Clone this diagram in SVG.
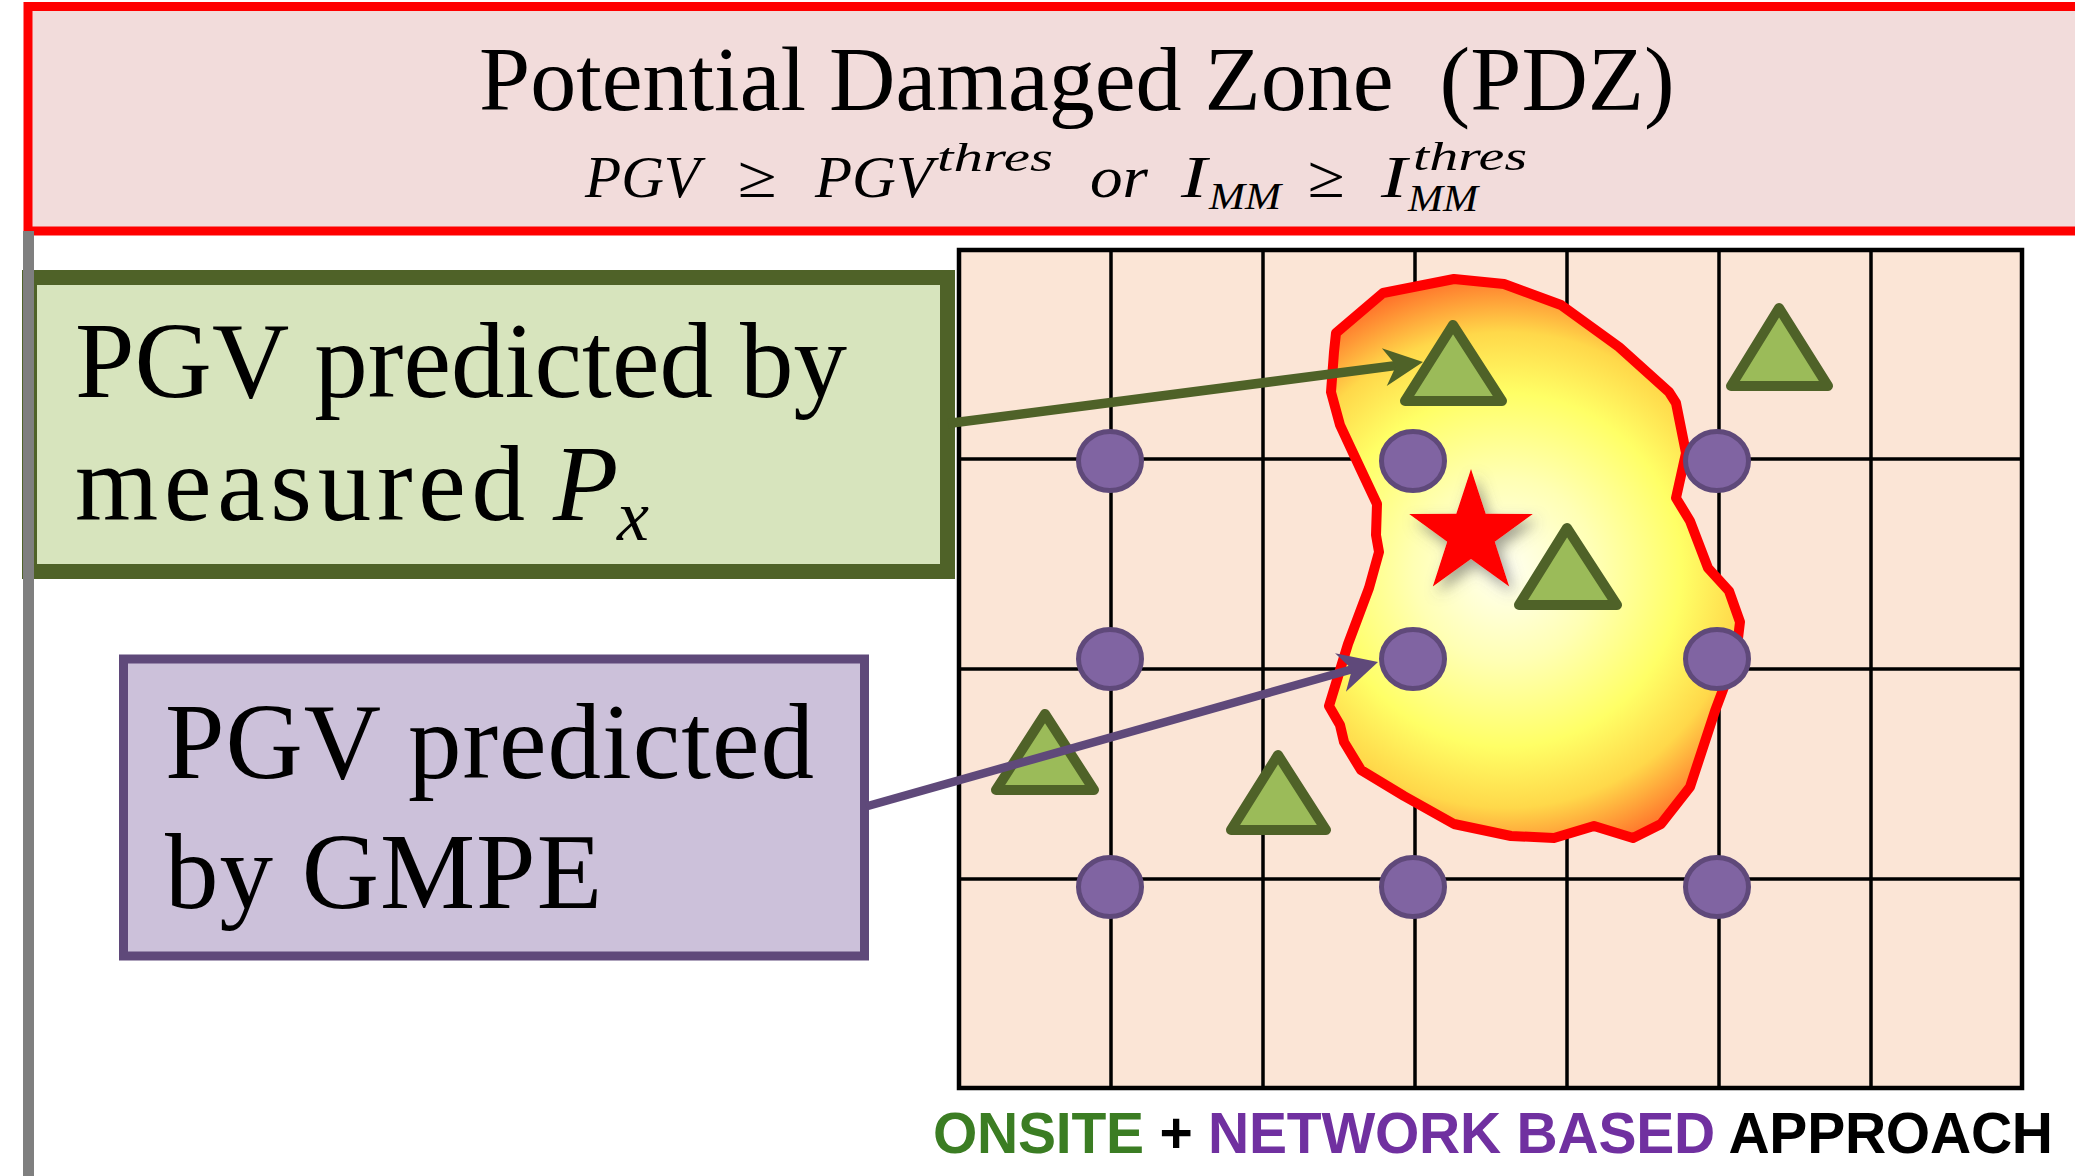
<svg xmlns="http://www.w3.org/2000/svg" width="2075" height="1176" viewBox="0 0 2075 1176">
<defs>
<style>
.serif{font-family:"Liberation Serif","Times New Roman","DejaVu Serif",serif;}
.it{font-style:italic;}
.box-txt{font-size:107px;fill:#000;}
.grid-line{stroke:#000;stroke-width:3.5;fill:none;}
.tri{fill:#9BBB59;stroke:#4F6228;stroke-width:10;stroke-linejoin:round;}
.sta{fill:#8064A2;stroke:#5F497A;stroke-width:5;}
.fml{font-size:60px;fill:#000;}
.sup{font-size:41px;fill:#000;}
.sub{font-size:38px;fill:#000;}
</style>
<radialGradient id="heat" gradientUnits="userSpaceOnUse" cx="1505" cy="570" r="305">
<stop offset="0" stop-color="#FFFFF2"/>
<stop offset="0.3" stop-color="#FFFFB4"/>
<stop offset="0.58" stop-color="#FFFF66"/>
<stop offset="0.78" stop-color="#FFD84A"/>
<stop offset="1" stop-color="#FF6426"/>
</radialGradient>
<filter id="shadow" x="-50%" y="-50%" width="200%" height="200%">
<feDropShadow dx="5" dy="7" stdDeviation="7" flood-color="#555" flood-opacity="0.55"/>
</filter>
<marker id="ahGreen" markerUnits="userSpaceOnUse" orient="auto" refX="0" refY="0" markerWidth="90" markerHeight="90" viewBox="-45 -45 90 90" overflow="visible">
<path d="M26,0 L-13,-19 L-1,0 L-13,19 Z" fill="#4F6228"/>
</marker>
<marker id="ahPurple" markerUnits="userSpaceOnUse" orient="auto" refX="0" refY="0" markerWidth="90" markerHeight="90" viewBox="-45 -45 90 90" overflow="visible">
<path d="M26,0 L-13,-20 L-1,0 L-13,20 Z" fill="#5F497A"/>
</marker>
</defs>
<rect width="2075" height="1176" fill="#FFFFFF"/>

<g id="header">
<rect x="28" y="6.5" width="2100" height="224.5" fill="#F2DCDB" stroke="#FF0000" stroke-width="9"/>
<text class="serif" x="479" y="110" font-size="92" fill="#000" xml:space="preserve">Potential Damaged Zone  (PDZ)</text>
<g class="serif it">
<text class="fml" x="585" y="197" textLength="115" lengthAdjust="spacingAndGlyphs">PGV</text>
<text class="fml" x="738" y="197" font-style="normal" textLength="39" lengthAdjust="spacingAndGlyphs">≥</text>
<text class="fml" x="815" y="197" textLength="118" lengthAdjust="spacingAndGlyphs">PGV</text>
<text class="sup" x="937" y="171" textLength="116" lengthAdjust="spacingAndGlyphs">thres</text>
<text class="fml" x="1090" y="197" textLength="58" lengthAdjust="spacingAndGlyphs">or</text>
<text class="fml" x="1181" y="197" textLength="26" lengthAdjust="spacingAndGlyphs">I</text>
<text class="sub" x="1209" y="209" textLength="72" lengthAdjust="spacingAndGlyphs">MM</text>
<text class="fml" x="1308" y="197" font-style="normal" textLength="37" lengthAdjust="spacingAndGlyphs">≥</text>
<text class="fml" x="1381" y="197" textLength="26" lengthAdjust="spacingAndGlyphs">I</text>
<text class="sup" x="1413" y="170" textLength="114" lengthAdjust="spacingAndGlyphs">thres</text>
<text class="sub" x="1408" y="211" textLength="70" lengthAdjust="spacingAndGlyphs">MM</text>
</g>
</g>

<g id="grid">
<rect x="959" y="250" width="1063" height="838" fill="#FBE5D6" stroke="#000" stroke-width="4.5"/>
<path class="grid-line" d="M1111,250V1088 M1263,250V1088 M1415,250V1088 M1567,250V1088 M1719,250V1088 M1871,250V1088 M959,459H2022 M959,669H2022 M959,879H2022"/>
</g>

<g id="pdz-zone">
<path d="M1336,333 L1383,293 L1454,279 L1504,284 L1561,305 L1619,347 L1669,392 L1676,403 L1686,453 L1676,498 L1690,521 L1708,568 L1729,591 L1740,622 L1736,655 L1715,711 L1690,787 L1661,824 L1633,838 L1594,826 L1554,838 L1511,836 L1454,824 L1404,796 L1361,770 L1344,742 L1340,725 L1329,706 L1348,644 L1369,588 L1379,552 L1376,535 L1377,504 L1361,470 L1340,425 L1331,392 L1334,352 Z" fill="url(#heat)" stroke="#FF0000" stroke-width="10" stroke-linejoin="round"/>
</g>

<g id="epicenter">
<path d="M1471,469 L1485.7,513.8 L1532.8,513.9 L1494.8,541.7 L1509.2,586.6 L1471,559 L1432.8,586.6 L1447.2,541.7 L1409.2,513.9 L1456.3,513.8 Z" fill="#FF0000" filter="url(#shadow)"/>
</g>

<g id="stations-onsite">
<path class="tri" d="M1453,325 L1502,401 L1405,401 Z"/>
<path class="tri" d="M1779,308 L1828,386 L1731,386 Z"/>
<path class="tri" d="M1567,528 L1617,605 L1519,605 Z"/>
<path class="tri" d="M1045,714 L1094,790 L996,790 Z"/>
<path class="tri" d="M1278,755 L1326,830 L1231,830 Z"/>
</g>

<g id="stations-network">
<ellipse class="sta" cx="1110" cy="461" rx="31.5" ry="29.5"/>
<ellipse class="sta" cx="1413" cy="461" rx="31.5" ry="29.5"/>
<ellipse class="sta" cx="1717" cy="461" rx="31.5" ry="29.5"/>
<ellipse class="sta" cx="1110" cy="659" rx="31.5" ry="29.5"/>
<ellipse class="sta" cx="1413" cy="659" rx="31.5" ry="29.5"/>
<ellipse class="sta" cx="1717" cy="659" rx="31.5" ry="29.5"/>
<ellipse class="sta" cx="1110" cy="887" rx="31.5" ry="29.5"/>
<ellipse class="sta" cx="1413" cy="887" rx="31.5" ry="29.5"/>
<ellipse class="sta" cx="1717" cy="887" rx="31.5" ry="29.5"/>
</g>

<g id="box-onsite">
<rect x="29.5" y="277.5" width="918" height="294" fill="#D7E4BD" stroke="#4F6228" stroke-width="15"/>
<text class="serif box-txt" x="75" y="397" textLength="772">PGV predicted by</text>
<text class="serif box-txt" x="75" y="520"><tspan textLength="450">measured</tspan><tspan x="553" class="it">P</tspan><tspan x="617" y="540" class="it" font-size="72">x</tspan></text>
</g>

<rect x="23" y="231" width="11" height="945" fill="#7F7F7F"/>

<g id="box-network">
<rect x="123.5" y="659" width="741" height="297" fill="#CCC1DA" stroke="#5F497A" stroke-width="9"/>
<text class="serif box-txt" x="165" y="778" textLength="649">PGV predicted</text>
<text class="serif box-txt" x="165" y="908" textLength="437">by GMPE</text>
</g>

<g id="connectors">
<path d="M948,423.5 L1397.2,365.4" stroke="#4F6228" stroke-width="9.5" fill="none" marker-end="url(#ahGreen)"/>
<path d="M866,806.5 L1353,669" stroke="#5F497A" stroke-width="8.5" fill="none" marker-end="url(#ahPurple)"/>
</g>

<g id="caption">
<text x="933" y="1153" font-family="'Liberation Sans',Arial,sans-serif" font-weight="bold" font-size="57" textLength="1120"><tspan fill="#3B7D23">ONSITE</tspan><tspan fill="#000"> + </tspan><tspan fill="#7030A0">NETWORK BASED</tspan><tspan fill="#000"> APPROACH</tspan></text>
</g>
</svg>
